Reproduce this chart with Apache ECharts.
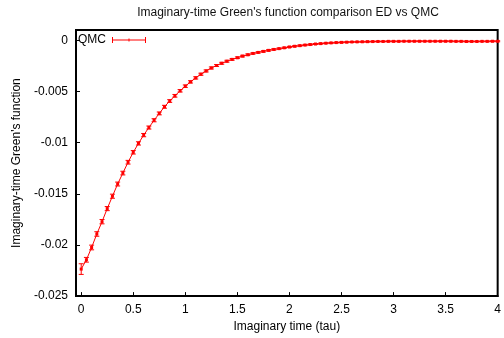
<!DOCTYPE html>
<html><head><meta charset="utf-8">
<script src="https://cdn.jsdelivr.net/npm/echarts@6/dist/echarts.min.js"></script>
<style>html,body{margin:0;padding:0;background:#fff}#c{width:504px;height:338px}</style>
</head><body><div id="c"></div>
<script>
const tau = [0,0.05,0.1,0.15,0.2,0.25,0.3,0.35,0.4,0.45,0.5,0.55,0.6,0.65,0.7,0.75,0.8,0.85,0.9,0.95,
  1,1.05,1.1,1.15,1.2,1.25,1.3,1.35,1.4,1.45,1.5,1.55,1.6,1.65,1.7,1.75,1.8,1.85,1.9,1.95,
  2,2.05,2.1,2.15,2.2,2.25,2.3,2.35,2.4,2.45,2.5,2.55,2.6,2.65,2.7,2.75,2.8,2.85,2.9,2.95,
  3,3.05,3.1,3.15,3.2,3.25,3.3,3.35,3.4,3.45,3.5,3.55,3.6,3.65,3.7,3.75,3.8,3.85,3.9,3.95,4];
const gValues = [-0.02236,-0.02145,-0.02025,-0.01893,-0.01773,-0.01645,-0.01524,-0.01405,-0.01298,-0.01192,
  -0.01095,-0.01008,-0.00927,-0.00853,-0.00782,-0.00715,-0.00650,-0.00594,-0.00543,-0.00494,
  -0.00449,-0.00407,-0.00368,-0.00332,-0.00300,-0.00271,-0.00247,-0.00225,-0.00205,-0.00187,
  -0.00171,-0.00155,-0.00142,-0.00129,-0.00119,-0.00109,-0.00099,-0.00090,-0.00082,-0.00074,
  -0.00066,-0.00059,-0.00053,-0.00047,-0.00042,-0.00037,-0.00033,-0.00029,-0.00026,-0.00023,
  -0.00021,-0.00019,-0.00017,-0.00016,-0.00015,-0.00014,-0.00013,-0.00012,-0.00012,-0.00011,
  -0.00011,-0.00011,-0.00010,-0.00010,-0.00010,-0.00010,-0.00010,-0.00010,-0.00010,-0.00010,
  -0.00010,-0.00010,-0.00011,-0.00011,-0.00012,-0.00012,-0.00012,-0.00011,-0.00011,-0.00010,-0.00010];
const gErrors = [0.00052,0.00023,0.00023,0.00022,0.00021,0.00020,0.00020,0.00019,0.00018,0.00018,
  0.00017,0.00016,0.00016,0.00015,0.00015,0.00014,0.00014,0.00013,0.00013,0.00012,
  0.00012,0.00011,0.00011,0.00010,0.00010,0.00010,0.00009,0.00009,0.00009,0.00008,
  0.00008,0.00008,0.00008,0.00007,0.00007,0.00007,0.00007,0.00007,0.00006,0.00006,
  0.00006,0.00006,0.00006,0.00006,0.00006,0.00005,0.00005,0.00005,0.00005,0.00005,
  0.00005,0.00005,0.00005,0.00005,0.00005,0.00005,0.00005,0.00005,0.00005,0.00005,
  0.00005,0.00005,0.00005,0.00005,0.00005,0.00005,0.00005,0.00005,0.00005,0.00005,
  0.00005,0.00005,0.00005,0.00005,0.00005,0.00005,0.00005,0.00005,0.00005,0.00005,0.00005];
const xTicks = [0,0.5,1,1.5,2,2.5,3,3.5,4];
const yTicks = [-0.025,-0.02,-0.015,-0.01,-0.005,0];
const seriesName = 'QMC';

const font = "'Liberation Sans', Arial, sans-serif";
const chart = echarts.init(document.getElementById('c'), null, {renderer: 'canvas'});
const lineData = tau.map((t, i) => [t, gValues[i]]);
const errData = tau.map((t, i) => [t, gValues[i], gErrors[i]]);
chart.setOption({
  animation: false,
  title: {
    text: "Imaginary-time Green's function comparison ED vs QMC",
    left: 283, textAlign: 'center', top: 2,
    textStyle: {fontFamily: font, fontSize: 12, fontWeight: 'normal', color: '#111'}
  },
  legend: {
    data: [{name: seriesName, icon: 'path://M0,3.5h34v1h-34z M0,1h1v6h-1z M33,1h1v6h-1z M16.5,2.5h1v3h-1z',
      itemStyle: {color: '#ff0000', borderWidth: 0}}],
    left: 78, top: 34, padding: 0, align: 'right', itemWidth: 34, itemHeight: 8,
    textStyle: {fontFamily: font, fontSize: 12, color: '#000', padding: [0, 1, 0, 0]},
    itemStyle: {color: '#ff0000', borderWidth: 0}
  },
  grid: {left: 76, right: 5, top: 30, bottom: 37, show: true, borderColor: '#000', borderWidth: 2, containLabel: false},
  xAxis: {
    type: 'value', min: -0.05, max: 4,
    name: 'Imaginary time (tau)', nameLocation: 'middle', nameGap: 22,
    nameTextStyle: {fontFamily: font, fontSize: 12, color: '#000'},
    axisLine: {show: true, onZero: false, lineStyle: {color: '#000', width: 2}},
    axisTick: {show: true, inside: true, length: 4, customValues: xTicks, lineStyle: {color: '#000', width: 1}},
    axisLabel: {customValues: xTicks, formatter: v => String(v), margin: 8, fontFamily: font, fontSize: 12, color: '#000'},
    splitLine: {show: false}
  },
  yAxis: {
    type: 'value', min: -0.025, max: 0.001,
    name: "Imaginary-time Green's function", nameLocation: 'middle', nameGap: 51,
    nameTextStyle: {fontFamily: font, fontSize: 12, color: '#000'},
    axisLine: {show: true, onZero: false, lineStyle: {color: '#000', width: 2}},
    axisTick: {show: true, inside: true, length: 4, customValues: yTicks, lineStyle: {color: '#000', width: 1}},
    axisLabel: {customValues: yTicks, formatter: v => String(v), margin: 8, fontFamily: font, fontSize: 12, color: '#000'},
    splitLine: {show: false}
  },
  series: [
    {
      name: seriesName, type: 'line', data: lineData,
      symbol: 'rect', symbolSize: 3, showSymbol: true,
      itemStyle: {color: '#ff0000'},
      lineStyle: {color: '#ff0000', width: 1},
      z: 3
    },
    {
      name: 'QMC error', type: 'custom', data: errData,
      encode: {x: 0, y: 1},
      renderItem: function (params, api) {
        const x = api.value(0), y = api.value(1), e = api.value(2);
        const top = api.coord([x, y + e]);
        const bot = api.coord([x, y - e]);
        const w = 2.5;
        const st = {stroke: '#ff0000', lineWidth: 1};
        return {type: 'group', children: [
          {type: 'line', shape: {x1: top[0], y1: top[1], x2: bot[0], y2: bot[1]}, style: st},
          {type: 'line', shape: {x1: top[0] - w, y1: top[1], x2: top[0] + w, y2: top[1]}, style: st},
          {type: 'line', shape: {x1: bot[0] - w, y1: bot[1], x2: bot[0] + w, y2: bot[1]}, style: st}
        ]};
      },
      z: 4
    }
  ]
});
</script>
</body></html>
